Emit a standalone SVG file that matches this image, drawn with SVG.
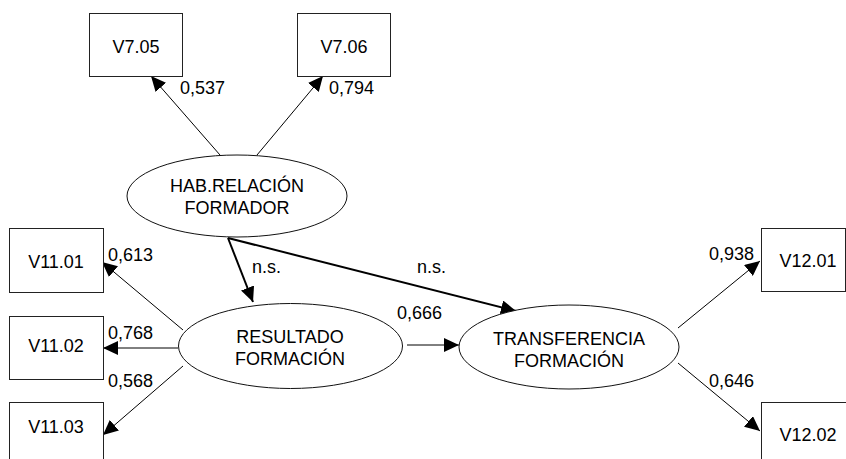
<svg xmlns="http://www.w3.org/2000/svg" width="846" height="459" viewBox="0 0 846 459">
<style>
text{font-family:"Liberation Sans",Arial,sans-serif;font-size:18px;fill:#000}
.box{fill:#fff;stroke:#222;stroke-width:1}
.ell{fill:#fff;stroke:#111;stroke-width:1}
.c{text-anchor:middle}
.ln{stroke:#000;stroke-width:1;fill:none;marker-end:url(#ah)}
.thick{stroke:#000;stroke-width:2;fill:none;marker-end:url(#ah)}
</style>
<defs>
<marker id="ah" markerUnits="userSpaceOnUse" markerWidth="16" markerHeight="14" refX="15" refY="7" orient="auto">
<path d="M0,0 L15,7 L0,14 Z" fill="#000"/>
</marker>
</defs>
<rect width="846" height="459" fill="#fff"/>
<g id="connectors">
<line class="ln" x1="220" y1="155" x2="151" y2="76"/>
<line class="ln" x1="257" y1="155" x2="323" y2="76"/>
<line class="ln" x1="183" y1="330" x2="102" y2="262"/>
<line class="ln" x1="178" y1="348" x2="103" y2="348"/>
<line class="ln" x1="183" y1="366" x2="103" y2="435"/>
<line class="ln" x1="407" y1="345" x2="459" y2="345"/>
<line class="thick" x1="228" y1="238" x2="253" y2="302"/>
<line class="thick" x1="228" y1="238" x2="516" y2="311"/>
<line class="ln" x1="678" y1="328" x2="760" y2="261"/>
<line class="ln" x1="678" y1="363" x2="760" y2="431"/>
<text x="180" y="94">0,537</text>
<text x="329" y="94">0,794</text>
<text x="108" y="261">0,613</text>
<text x="108" y="339">0,768</text>
<text x="108" y="387">0,568</text>
<text x="252" y="273">n.s.</text>
<text x="417" y="273">n.s.</text>
<text x="397" y="319">0,666</text>
<text x="709" y="260">0,938</text>
<text x="709" y="387">0,646</text>
</g>
<g id="v705"><rect class="box" x="89.5" y="13.5" width="93" height="63"/><text class="c" x="136" y="53">V7.05</text></g>
<g id="v706"><rect class="box" x="297.5" y="13.5" width="93" height="63"/><text class="c" x="344" y="53">V7.06</text></g>
<g id="v1101"><rect class="box" x="9.5" y="228.5" width="94" height="64"/><text class="c" x="56" y="268">V11.01</text></g>
<g id="v1102"><rect class="box" x="9.5" y="316.5" width="94" height="63"/><text class="c" x="56" y="352">V11.02</text></g>
<g id="v1103"><rect class="box" x="9.5" y="402.5" width="94" height="64"/><text class="c" x="56" y="433">V11.03</text></g>
<g id="v1201"><rect class="box" x="761.5" y="228.5" width="84" height="63"/><text class="c" x="808" y="267">V12.01</text></g>
<g id="v1202"><rect class="box" x="761.5" y="402.5" width="94" height="64"/><text class="c" x="808" y="441">V12.02</text></g>
<g id="hab"><ellipse class="ell" cx="237" cy="196" rx="110" ry="41"/><text class="c" x="237" y="192">HAB.RELACIÓN</text><text class="c" x="237" y="214">FORMADOR</text></g>
<g id="resultado"><ellipse class="ell" cx="290.5" cy="346" rx="112" ry="42.5"/><text class="c" x="290" y="343">RESULTADO</text><text class="c" x="290" y="365">FORMACIÓN</text></g>
<g id="transferencia"><ellipse class="ell" cx="569" cy="347" rx="110" ry="42"/><text class="c" x="569" y="345">TRANSFERENCIA</text><text class="c" x="569" y="367">FORMACIÓN</text></g>
</svg>
